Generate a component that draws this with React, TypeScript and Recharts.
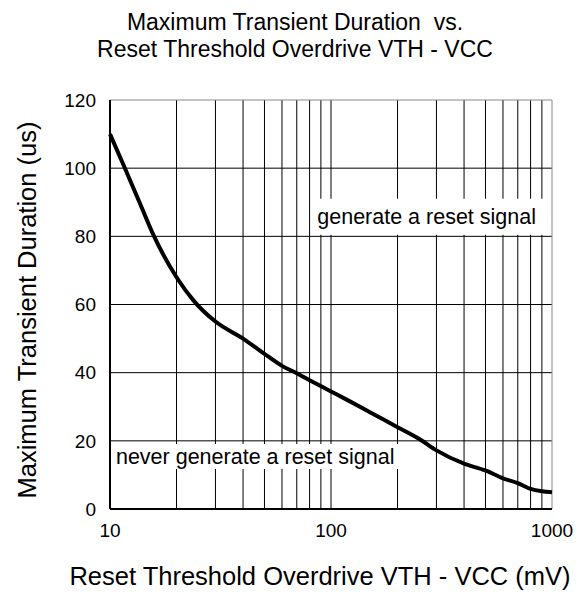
import { LineChart, Line, XAxis, YAxis, ReferenceArea, ReferenceLine } from "recharts";

const overdrive = [10, 11.5, 13.7, 15.7, 20, 24, 30, 40, 50, 60, 70, 80, 100, 120, 150, 200, 250, 300, 400, 500, 600, 700, 800, 900, 1000];
const duration = [110, 101, 89.5, 80.5, 68, 61, 55, 50, 45.5, 42, 39.8, 37.8, 34.5, 31.8, 28.4, 24, 20.6, 17.2, 13.3, 11.3, 9, 7.6, 5.9, 5.2, 4.9];

const xTicks = [10, 100, 1000];
const yTicks = [0, 20, 40, 60, 80, 100, 120];
const xGrid = [20, 30, 40, 50, 60, 70, 80, 90, 100, 200, 300, 400, 500, 600, 700, 800, 900];
const yGrid = [20, 40, 60, 80, 100];

const data = overdrive.map((x, i) => ({ x, y: duration[i] }));

const font = "'Liberation Sans', Arial, sans-serif";

export default function App() {
  return (
    <div style={{ position: "absolute", left: 0, top: 0, width: 587, height: 594, background: "#fff", fontFamily: font }}>
      <div
        style={{
          position: "absolute",
          left: 0,
          top: 9,
          width: 590,
          textAlign: "center",
          fontSize: 23,
          lineHeight: "27px",
          whiteSpace: "pre",
          color: "#000",
        }}
      >
        {"Maximum Transient Duration  vs.\nReset Threshold Overdrive VTH - VCC"}
      </div>
      <LineChart
        width={587}
        height={594}
        data={data}
        margin={{ top: 100, right: 35, bottom: 45, left: 50 }}
        style={{ position: "absolute", left: 0, top: 0 }}
      >
        <XAxis
          dataKey="x"
          type="number"
          scale="log"
          domain={[10, 1000]}
          ticks={xTicks}
          height={40}
          tickLine={false}
          tickMargin={9}
          axisLine={{ stroke: "#000", strokeWidth: 2 }}
          tick={{ fontSize: 19, fill: "#000", fontFamily: font }}
        />
        <YAxis
          type="number"
          domain={[0, 120]}
          ticks={yTicks}
          width={60}
          tickLine={false}
          tickMargin={8}
          axisLine={{ stroke: "#000", strokeWidth: 2 }}
          tick={{ fontSize: 19, fill: "#000", fontFamily: font }}
        />
        {xGrid.map((v) => (
          <ReferenceLine key={"x" + v} x={v} stroke="#000" strokeWidth={1} zIndex={50} />
        ))}
        {yGrid.map((v) => (
          <ReferenceLine key={"y" + v} y={v} stroke="#000" strokeWidth={1} zIndex={50} />
        ))}
        <ReferenceLine y={120} stroke="#888" strokeWidth={1} zIndex={50} />
        <ReferenceLine x={1000} stroke="#888" strokeWidth={1} zIndex={50} />
        <ReferenceArea
          x1={84}
          x2={970}
          y1={80.5}
          y2={91}
          fill="#fff"
          fillOpacity={1}
          stroke="none"
          zIndex={150}
          label={{ value: "generate a reset signal", position: "insideLeft", offset: 3, fontSize: 21.5, fill: "#000", fontFamily: font }}
        />
        <ReferenceArea
          x1={10.1}
          x2={207}
          y1={11.7}
          y2={19.1}
          fill="#fff"
          fillOpacity={1}
          stroke="none"
          zIndex={150}
          label={{ value: "never generate a reset signal", position: "insideLeft", offset: 5, fontSize: 21.5, fill: "#000", fontFamily: font }}
        />
        <Line
          type="monotone"
          dataKey="y"
          stroke="#000"
          strokeWidth={4}
          dot={false}
          isAnimationActive={false}
        />
      </LineChart>
      <svg width={587} height={594} style={{ position: "absolute", left: 0, top: 0, pointerEvents: "none" }}>
        <text
          x={27}
          y={310}
          transform="rotate(-90 27 310)"
          textAnchor="middle"
          dominantBaseline="central"
          fontSize={25.5}
          fontFamily={font}
          fill="#000"
        >
          Maximum Transient Duration (us)
        </text>
        <text x={320} y={585} textAnchor="middle" fontSize={25.5} fontFamily={font} fill="#000">
          Reset Threshold Overdrive VTH - VCC (mV)
        </text>
      </svg>
    </div>
  );
}
